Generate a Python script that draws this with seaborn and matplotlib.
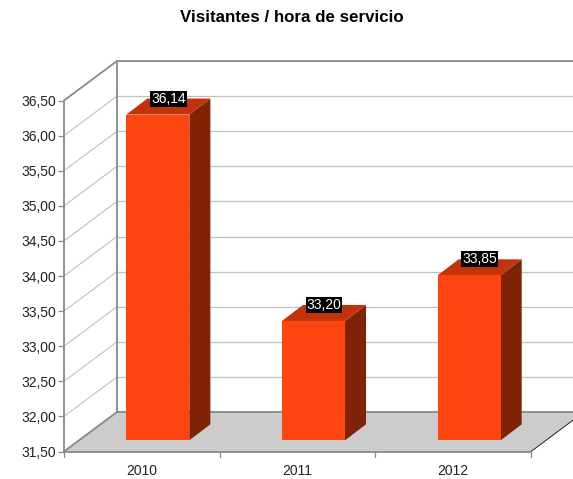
import numpy as np
import pandas as pd
import seaborn as sns
import matplotlib
matplotlib.use('Agg')
import matplotlib.pyplot as plt
from matplotlib.patches import Polygon
from matplotlib.lines import Line2D
from matplotlib.transforms import Affine2D

years = ['2010', '2011', '2012']
visitors = [36.14, 33.20, 33.85]
yticks = [31.5, 32.0, 32.5, 33.0, 33.5, 34.0, 34.5, 35.0, 35.5, 36.0, 36.5]
title = 'Visitantes / hora de servicio'

sns.set_style('white')
plt.rcParams['font.family'] = ['Liberation Sans', 'DejaVu Sans']

W, H = 573, 479
fig = plt.figure(figsize=(W / 100, H / 100), dpi=100)
ax = fig.add_axes([64 / W, (H - 451.5) / H, 467 / W, 351 / H])

df = pd.DataFrame({'year': years, 'value': visitors})
sns.barplot(data=df, x='year', y='value', color='#FF450F', saturation=1, width=0.405, ax=ax, zorder=5)
ax.set_xlim(-0.5, 2.5)
ax.set_ylim(yticks[0], yticks[-1])
base = yticks[0]

#   depth offsets in pixels
wall = ax.transData + Affine2D().translate(53, 39.5)
front = ax.transData + Affine2D().translate(16, 11.2)

#   floor
px = 3 / 467     # one pixel in x data units
rise = 39.5 / 70.2
floor = Polygon([(-0.5, base), (2.5, base), (2.5 + 53 * px, base + rise), (-0.5 + 53 * px, base + rise)],
                closed=True, facecolor='#CCCCCC', edgecolor='none', clip_on=False, zorder=1)
ax.add_patch(floor)

#   back wall + side wall lines
for v in yticks[1:-1]:
    ax.add_line(Line2D([-0.5, 2.5 + 53 * px], [v, v], transform=wall, color='#C0C0C0', lw=0.9, clip_on=False, zorder=2))
    ax.add_line(Line2D([-0.5, -0.5 + 53 * px], [v, v + rise], color='#C0C0C0', lw=0.8, clip_on=False, zorder=2))

#   wall outline
grey = '#888888'
ax.add_line(Line2D([-0.5, 2.5 + 53 * px], [yticks[-1]] * 2, transform=wall, color=grey, lw=1.3, clip_on=False, zorder=3))
ax.add_line(Line2D([-0.5, 2.5 + 53 * px], [base] * 2, transform=wall, color=grey, lw=1.3, clip_on=False, zorder=3))
ax.add_line(Line2D([-0.5, -0.5], [base, yticks[-1]], transform=wall, color=grey, lw=1.3, clip_on=False, zorder=3))
ax.add_line(Line2D([-0.5, -0.5 + 53 * px], [yticks[-1], yticks[-1] + rise], color=grey, lw=1.3, clip_on=False, zorder=3))
ax.add_line(Line2D([-0.5, -0.5 + 53 * px], [base, base + rise], color=grey, lw=1.3, clip_on=False, zorder=3))
ax.add_line(Line2D([2.5, 2.5 + 53 * px], [base, base + rise], color='#222222', lw=0.7, clip_on=False, zorder=3))

#   bars: front face comes from seaborn, top and side are built on it
dx, dy = 21 * px, 16 / 70.2
for bar, v in zip(ax.patches[:len(visitors)], visitors):
    bar.set_y(base)
    bar.set_height(v - base)
    bar.set_transform(front)
    bar.set_clip_on(False)
    bar.set_edgecolor('none')
    x0, x1 = bar.get_x(), bar.get_x() + bar.get_width()
    ax.add_patch(Polygon([(x1, base), (x1 + dx, base + dy), (x1 + dx, v + dy), (x1, v)], closed=True,
                         facecolor='#7F2205', edgecolor='none', transform=front, clip_on=False, zorder=4))
    ax.add_patch(Polygon([(x0, v), (x1, v), (x1 + dx, v + dy), (x0 + dx, v + dy)], closed=True,
                         facecolor='#C1330B', edgecolor='none', transform=front, clip_on=False, zorder=4))
    ax.text((x0 + x1 + dx) / 2, v + dy, f'{v:.2f}'.replace('.', ','), transform=front, ha='center', va='center',
            fontsize=10, color='white', zorder=6, clip_on=False,
            bbox=dict(facecolor='black', edgecolor='none', pad=0.7))

#   axes
sns.despine(ax=ax, top=True, right=True)
for s in ['left', 'bottom']:
    ax.spines[s].set_color(grey)
    ax.spines[s].set_linewidth(1.3)
    ax.spines[s].set_zorder(3)
ax.set_yticks(yticks)
ax.set_yticklabels([f'{v:.2f}'.replace('.', ',') for v in yticks], fontsize=10, color='#222222')
ax.set_xticks([0, 1, 2])
ax.set_xticklabels(years, fontsize=10, color='#222222')
ax.tick_params(axis='y', length=4.3, width=0.9, color=grey, left=True, pad=1.5)
ax.tick_params(axis='x', length=0, pad=9)
ax.set_xlabel('')
ax.set_ylabel('')
for x in [-0.5, 0.5, 1.5, 2.5]:
    ax.plot([x, x], [base, base - 5.5 / 70.2], color=grey, lw=0.9, clip_on=False, zorder=3)
ax.set_ylim(yticks[0], yticks[-1])
ax.patch.set_alpha(0)

fig.text(291.5 / W, 1 - 17 / H, title, ha='center', va='center', fontsize=12.2, fontweight='bold', color='black')

fig.savefig('out.png', dpi=100)
